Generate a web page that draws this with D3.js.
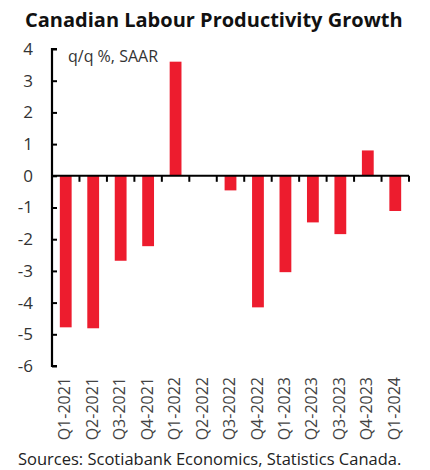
<!DOCTYPE html>
<html><head><meta charset="utf-8">
<script src="https://cdn.jsdelivr.net/npm/d3@7"></script>
<style>body{margin:0;background:#fff}svg{display:block}</style>
</head><body>
<script>
const categories = ["Q1-2021","Q2-2021","Q3-2021","Q4-2021","Q1-2022","Q2-2022","Q3-2022","Q4-2022","Q1-2023","Q2-2023","Q3-2023","Q4-2023","Q1-2024"];
const values = [-4.78,-4.81,-2.68,-2.22,3.6,0,-0.46,-4.15,-3.04,-1.47,-1.84,0.8,-1.11];
const yTicks = [4,3,2,1,0,-1,-2,-3,-4,-5,-6];
const title = "Canadian Labour Productivity Growth";
const unitLabel = "q/q %, SAAR";
const source = "Sources: Scotiabank Economics, Statistics Canada.";

const W = 430, H = 470;
const svg = d3.select("body").append("svg").attr("width", W).attr("height", H);
const font = "'Open Sans', sans-serif";
const x = d3.scaleBand().domain(categories).range([52, 409]).paddingInner(0.57).paddingOuter(0.285);
const xb = d3.scaleBand().domain(categories).range([52, 409]);
const y = d3.scaleLinear().domain([-6, 4]).range([366, 49]);

svg.append("text").attr("x", 25).attr("y", 27).attr("font-family", font).attr("font-weight", 700)
  .attr("font-size", 20).attr("fill", "#111").text(title);

// bars
svg.append("g").selectAll("rect").data(values).join("rect")
  .attr("x", (d, i) => x(categories[i]))
  .attr("width", x.bandwidth())
  .attr("y", d => y(Math.max(0, d)))
  .attr("height", d => Math.abs(y(d) - y(0)))
  .attr("fill", "#ED1C2E");

// y axis
const yAxis = svg.append("g").attr("transform", "translate(52,0)")
  .call(d3.axisRight(y).tickValues(yTicks).tickSize(5).tickFormat(""));
yAxis.select(".domain").attr("stroke", "#000").attr("stroke-width", 2.2)
  .attr("d", `M5,${y(4)}H0V${y(-6)}H5`);
yAxis.selectAll(".tick line").attr("stroke", "#000").attr("stroke-width", 2);
svg.append("g").selectAll("text").data(yTicks).join("text")
  .attr("x", 33).attr("y", d => y(d)).attr("dy", "0.35em").attr("text-anchor", "end")
  .attr("font-family", font).attr("font-size", 17).attr("fill", "#333")
  .text(d => d);

// x axis at zero
const xAxis = svg.append("g").attr("transform", `translate(0,${y(0)})`)
  .call(d3.axisBottom(xb).tickSize(0).tickFormat(""));
xAxis.select(".domain").attr("stroke", "#000").attr("stroke-width", 2).attr("d", `M52,0H409`);
svg.append("g").selectAll("line").data(categories).join("line")
  .attr("x1", d => xb(d) + xb.bandwidth()).attr("x2", d => xb(d) + xb.bandwidth())
  .attr("y1", y(0)).attr("y2", y(0) + 6).attr("stroke", "#000").attr("stroke-width", 2);

// x labels
svg.append("g").selectAll("text").data(categories).join("text")
  .attr("transform", d => `translate(${xb(d) + xb.bandwidth() / 2 - 1},377) rotate(-90)`)
  .attr("dy", "0.35em").attr("text-anchor", "end")
  .attr("font-family", font).attr("font-size", 16).attr("fill", "#444")
  .text(d => d);

svg.append("text").attr("x", 68).attr("y", 62).attr("font-family", font)
  .attr("font-size", 16).attr("fill", "#333").text(unitLabel);

svg.append("text").attr("x", 18).attr("y", 465).attr("font-family", font)
  .attr("font-size", 16.5).attr("fill", "#222").text(source);
</script>
</body></html>
